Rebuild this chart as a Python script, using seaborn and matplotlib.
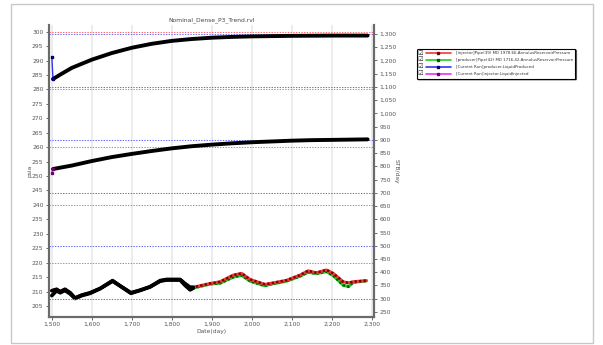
import numpy as np
import pandas as pd
import matplotlib
matplotlib.use("Agg")
import matplotlib.pyplot as plt
import seaborn as sns
from matplotlib.lines import Line2D
from matplotlib.text import Text
from matplotlib.legend_handler import HandlerLine2D
from matplotlib.ticker import FuncFormatter, MultipleLocator
from matplotlib.patches import Rectangle

# ---------------- data ----------------
title = "Nominal_Dense_P3_Trend.rvl"

prod_days = [1500, 1503, 1525, 1550, 1600, 1650, 1700, 1750, 1800, 1850,
             1900, 1950, 2000, 2100, 2200, 2290]
prod_rate = [1214, 1130, 1150, 1172, 1203, 1228, 1248, 1263, 1274, 1281,
             1286, 1289, 1291, 1293, 1294, 1294]

inj_days = [1500, 1503, 1550, 1600, 1650, 1700, 1750, 1800, 1850, 1900,
            1950, 2000, 2050, 2100, 2150, 2200, 2290]
inj_rate = [776, 790, 803, 820, 835, 847, 858, 868, 876, 882,
            887, 891, 894, 897, 899, 900, 902]

p_days = [1500, 1512, 1521, 1533, 1546, 1558, 1575, 1596, 1621, 1652, 1671,
          1698, 1721, 1746, 1771, 1787, 1821, 1833, 1846, 1854, 1896, 1921,
          1954, 1975, 1996, 2033, 2046, 2087, 2121, 2141, 2162, 2187, 2204,
          2229, 2242, 2254, 2287]
inj_press = [210.3, 210.8, 210.0, 210.8, 209.6, 207.8, 208.8, 209.6, 211.1,
             213.8, 212.0, 209.6, 210.5, 211.7, 213.8, 214.2, 214.2, 212.8,
             211.5, 211.5, 212.8, 213.4, 215.7, 216.3, 214.2, 212.5, 212.8,
             213.9, 215.7, 217.2, 216.5, 217.5, 216.3, 213.4, 213.0, 213.4,
             213.8]
prod_press = [208.6, 210.3, 209.6, 210.4, 209.2, 207.6, 208.6, 209.4, 211.0,
              213.6, 211.9, 209.4, 210.4, 211.6, 213.6, 214.0, 214.0, 212.2,
              210.6, 211.2, 212.6, 212.9, 215.0, 215.6, 213.6, 212.0, 212.5,
              213.6, 215.3, 216.7, 216.2, 216.9, 215.5, 212.2, 211.7, 213.2,
              213.7]

labels = ["[injector]Pipe(39) MD 1978.66.AnnulusReservoirPressure",
          "[producer]Pipe(42) MD 1716.42.AnnulusReservoirPressure",
          "[Current Run]producer.LiquidProduced",
          "[Current Run]injector.LiquidInjected"]

# ---------------- style ----------------
sns.set_theme(style="white")
plt.rcParams["font.family"] = ["DejaVu Sans"]

c_red, c_red_d = "#ee3a3a", "#7a0000"
c_grn, c_grn_d = "#22cc22", "#005a00"
c_blu, c_blu_d = "#3535ee", "#000070"
c_mag, c_mag_d = "#ee30ee", "#700070"
tick_col = "#555555"
grid_red = "#ff6a6a"
grid_blue = "#6a6aff"

fig = plt.figure(figsize=(6.03, 3.45), dpi=100)
fig.patches.append(Rectangle((11 / 603, 1 - 343 / 345), 582 / 603, 339 / 345,
                             transform=fig.transFigure, fill=False,
                             edgecolor="#c8c8c8", lw=1.0))

ax = fig.add_axes([49 / 603, 1 - 316.7 / 345, 325 / 603, 291.7 / 345])
ax2 = ax.twinx()

# axes limits / ticks
ax.set_xlim(1493, 2306)
ax.set_ylim(201.3, 302.3)
ax2.set_ylim(232, 1334)

comma = FuncFormatter(lambda v, p: f"{v:,.0f}")
ax.xaxis.set_major_locator(MultipleLocator(100))
ax.xaxis.set_major_formatter(comma)
ax.yaxis.set_major_locator(MultipleLocator(5))
ax.yaxis.set_major_formatter(comma)
ax2.yaxis.set_major_locator(MultipleLocator(50))
ax2.yaxis.set_major_formatter(comma)

# dotted reference lines: every 20 psia (left) and every 200 STB/day (right)
left_ref = MultipleLocator(20).tick_values(*ax.get_ylim())
right_ref = MultipleLocator(200, offset=100).tick_values(*ax2.get_ylim())
for v in left_ref:
    if ax.get_ylim()[0] <= v <= ax.get_ylim()[1]:
        ax.axhline(v, color=grid_red, lw=0.75, ls=(0, (1.3, 1.3)),
                   zorder=1, snap=True)
for v in right_ref:
    if ax2.get_ylim()[0] <= v <= ax2.get_ylim()[1]:
        ax2.axhline(v, color=grid_blue, lw=0.75, ls=(0, (1.3, 1.3)),
                    zorder=1, snap=True)

# pressure series (left axis)
dfp = pd.DataFrame({"day": p_days, "inj": inj_press, "prod": prod_press})
early = dfp[dfp["day"] <= 1885]
sns.lineplot(data=dfp, x="day", y="prod", ax=ax, color=c_grn, lw=2.2, zorder=3)
sns.lineplot(data=dfp, x="day", y="prod", ax=ax, color=c_grn_d, lw=1.8,
             zorder=4).lines[-1].set_dashes((0.9, 0.9))
sns.lineplot(data=dfp, x="day", y="inj", ax=ax, color=c_red, lw=2.2, zorder=5)
sns.lineplot(data=dfp, x="day", y="inj", ax=ax, color=c_red_d, lw=1.8,
             zorder=6).lines[-1].set_dashes((0.9, 0.9))
sns.lineplot(data=early, x="day", y="prod", ax=ax, color="black", lw=2.6, zorder=7)
sns.lineplot(data=early, x="day", y="inj", ax=ax, color="black", lw=2.6, zorder=7)

# rate series (right axis)
dpr = pd.DataFrame({"day": prod_days, "rate": prod_rate})
dir_ = pd.DataFrame({"day": inj_days, "rate": inj_rate})
sns.lineplot(data=dpr, x="day", y="rate", ax=ax2, color=c_blu, lw=1.0, zorder=3)
sns.lineplot(data=dpr.iloc[1:], x="day", y="rate", ax=ax2, color="black", lw=2.8, zorder=4)
ax2.plot(dpr["day"].iloc[:2], dpr["rate"].iloc[:2], ls="none", marker="s",
         ms=1.8, color=c_blu_d, zorder=5)
sns.lineplot(data=dir_, x="day", y="rate", ax=ax2, color=c_mag, lw=1.0, zorder=3)
sns.lineplot(data=dir_.iloc[1:], x="day", y="rate", ax=ax2, color="black", lw=2.8, zorder=4)
ax2.plot(dir_["day"].iloc[:2], dir_["rate"].iloc[:2], ls="none", marker="s",
         ms=1.8, color=c_mag_d, zorder=5)

ax.set_xlim(1493, 2306)
ax.set_ylim(201.3, 302.3)
ax2.set_ylim(232, 1334)

for a in (ax, ax2):
    a.tick_params(axis="both", which="major", labelsize=4.3, colors=tick_col,
                  length=2, width=0.6, pad=2)
    a.spines["top"].set_visible(False)
    for s in ("left", "right", "bottom"):
        a.spines[s].set_color("#6a6a6a")
        a.spines[s].set_linewidth(1.5)
ax.tick_params(axis="y", left=True, right=False)
ax2.tick_params(axis="y", right=True, left=False)
ax.tick_params(axis="x", bottom=True)

ax.grid(False)
ax2.grid(False)
ax.xaxis.grid(True, which="major", color="#ebebeb", lw=1.3)
ax.set_axisbelow(True)

ax.set_xlabel("Date(day)", fontsize=4.3, color=tick_col)
ax.xaxis.set_label_coords(0.5, -0.042)
ax.set_ylabel("psia", fontsize=4.3, color=tick_col)
ax.yaxis.set_label_coords(-0.052, 0.5)
ax2.set_ylabel("STB/day", fontsize=4.3, color=tick_col, rotation=270, va="center")
ax2.yaxis.set_label_coords(1.068, 0.5)

ax.text(0.5, 1.017, title, transform=ax.transAxes, ha="center", va="center",
        fontsize=4.3, color="#444444")


# legend with checkbox in front of each line
class CheckHandler(HandlerLine2D):
    def create_artists(self, legend, orig_handle, xdescent, ydescent,
                       width, height, fontsize, trans):
        off = width * 0.2
        arts = super().create_artists(legend, orig_handle, xdescent - off,
                                      ydescent, width - off, height,
                                      fontsize, trans)
        chk = Text(-xdescent - 1.5, height / 2 - ydescent, "\u2611",
                   fontsize=4.4, ha="left", va="center", color="#222222",
                   transform=trans)
        return list(arts) + [chk]


handles = [
    Line2D([], [], color=c_red, lw=1.2, marker="s", ms=1.6, mfc=c_red_d, mec=c_red_d),
    Line2D([], [], color=c_grn, lw=1.2, marker="s", ms=1.6, mfc=c_grn_d, mec=c_grn_d),
    Line2D([], [], color=c_blu, lw=1.2, marker="s", ms=1.6, mfc=c_blu_d, mec=c_blu_d),
    Line2D([], [], color=c_mag, lw=1.2, marker="s", ms=1.6, mfc=c_mag_d, mec=c_mag_d),
]
leg = fig.legend(handles, labels, loc="upper left",
                 bbox_to_anchor=(417 / 603, 1 - 49 / 345),
                 fontsize=2.85, frameon=True, fancybox=True,
                 edgecolor="black", framealpha=1, borderpad=0.6,
                 handlelength=8.0, handletextpad=1.2, labelspacing=0.75,
                 numpoints=1, borderaxespad=0,
                 handler_map={Line2D: CheckHandler()},
                 shadow={"ox": 0.8, "oy": -0.8, "color": "#555555", "alpha": 1})
leg.get_frame().set_linewidth(0.8)
for t in leg.get_texts():
    t.set_color("#333333")

fig.savefig("out.png", dpi=100)
